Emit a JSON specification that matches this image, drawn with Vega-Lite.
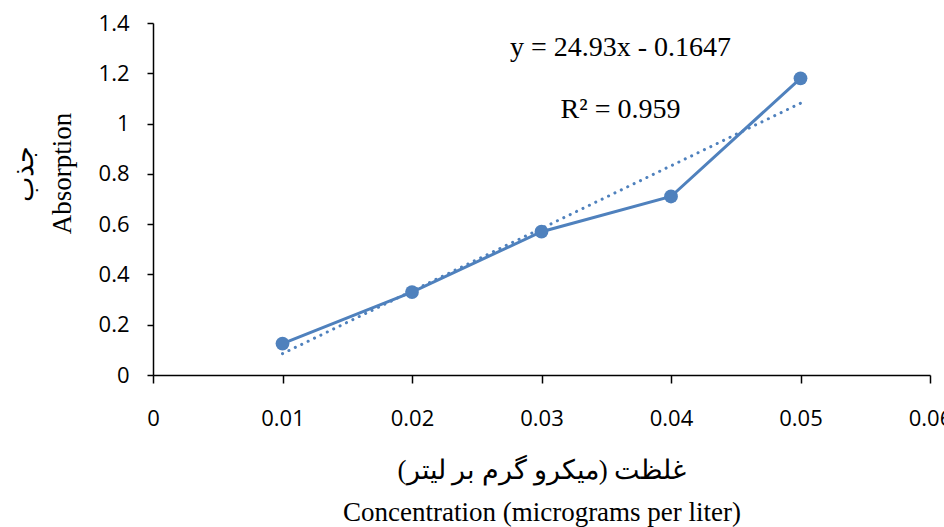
{
  "$schema": "https://vega.github.io/schema/vega-lite/v6.json",
  "autosize": "none",
  "width": 777,
  "height": 352,
  "padding": {"left": 153, "top": 23, "right": 14, "bottom": 152},
  "background": "white",
  "config": {
    "view": {"stroke": null},
    "axis": {"labelFont": "Open Sans", "labelFontSize": 22, "labelColor": "black", "grid": false,
      "domainColor": "black", "domainWidth": 1.5, "tickColor": "black", "tickWidth": 1.5,
      "titleFont": "Liberation Serif", "titleFontSize": 27, "titleFontWeight": "normal", "titleColor": "black", "labelFlush": false}
  },
  "datasets": {
    "pts": [
      {"c": 0.01, "a": 0.125},
      {"c": 0.02, "a": 0.33},
      {"c": 0.03, "a": 0.57},
      {"c": 0.04, "a": 0.71},
      {"c": 0.05, "a": 1.18}
    ],
    "notes": [
      {"c": 0.0361, "a": 1.30, "t": "y = 24.93x - 0.1647"},
      {"c": 0.0361, "a": 1.055, "t": "R² = 0.959"}
    ]
  },
  "encoding": {
    "x": {"field": "c", "type": "quantitative", "scale": {"domain": [0, 0.06], "nice": false},
      "axis": {
        "values": [0, 0.01, 0.02, 0.03, 0.04, 0.05, 0.06],
        "format": "~g",
        "tickSize": 8, "labelPadding": 25,
        "title": ["غلظت (میکرو گرم بر لیتر)", "Concentration (micrograms per liter)"],
        "titlePadding": 28, "titleLineHeight": 42
      }
    },
    "y": {"field": "a", "type": "quantitative", "scale": {"domain": [0, 1.4], "nice": false},
      "axis": {
        "values": [0, 0.2, 0.4, 0.6, 0.8, 1, 1.2, 1.4],
        "format": "~g",
        "tickSize": 6, "labelPadding": 18,
        "title": ["جذب", "Absorption"],
        "titlePadding": 22, "titleLineHeight": 38, "titleY": 150
      }
    }
  },
  "layer": [
    {
      "data": {"name": "pts"},
      "transform": [{"regression": "a", "on": "c", "method": "linear"}],
      "mark": {"type": "line", "color": "#4F81BD", "strokeWidth": 3, "strokeDash": [0.1, 7], "strokeCap": "round"}
    },
    {
      "data": {"name": "pts"},
      "mark": {"type": "line", "color": "#4F81BD", "strokeWidth": 3, "point": {"filled": true, "size": 190, "color": "#4F81BD", "opacity": 1}}
    },
    {
      "data": {"name": "notes"},
      "mark": {"type": "text", "font": "Liberation Serif", "fontSize": 28, "color": "black", "align": "center", "baseline": "middle"},
      "encoding": {
        "text": {"field": "t"}
      }
    }
  ]
}
